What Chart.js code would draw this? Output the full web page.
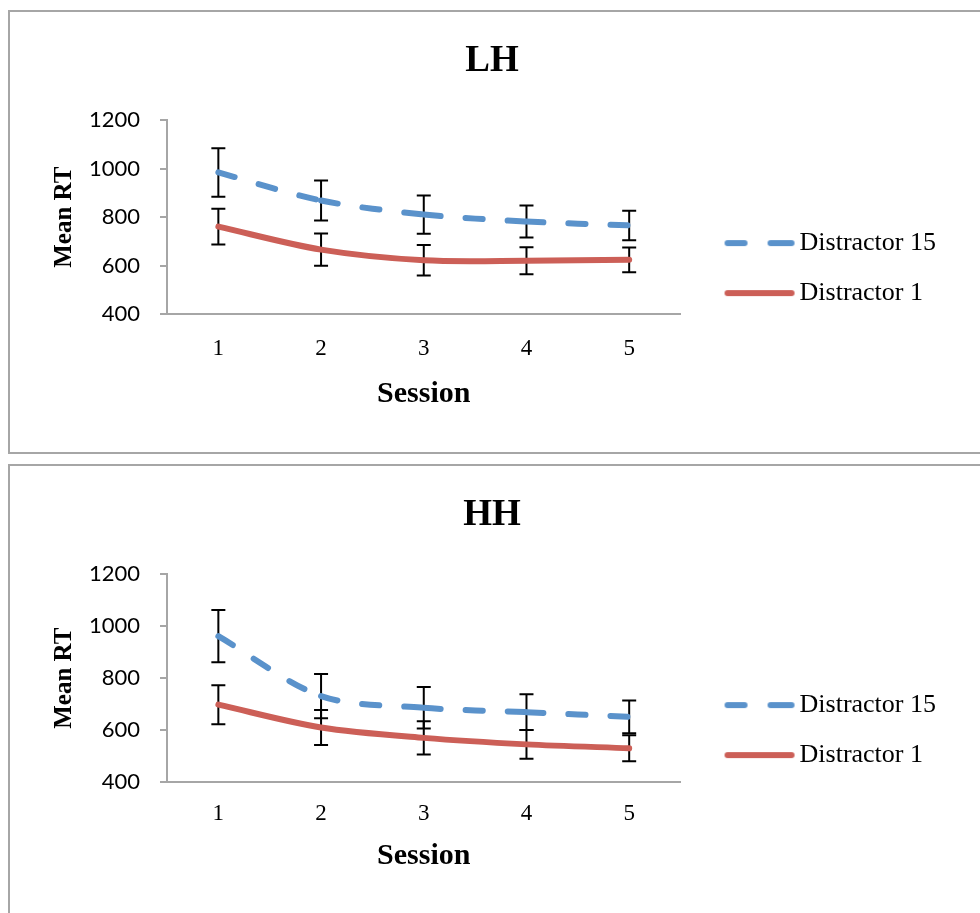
<!DOCTYPE html>
<html>
<head>
<meta charset="utf-8">
<script src="https://cdn.jsdelivr.net/npm/chart.js@4.4.1/dist/chart.umd.min.js"></script>
<style>
    body { margin: 0; background: #fff; width: 980px; height: 913px; overflow: hidden; position: relative; }
    .box { position: absolute; left: 8px; width: 1000px; border: 2px solid #a6a6a6; box-sizing: border-box; }
    #box1 { top: 10px; height: 444px; }
    #box2 { top: 464px; height: 470px; }
    canvas { position: absolute; left: 10px; }
    #lhChart { top: 12px; }
    #hhChart { top: 466px; }
</style>
</head>
<body>
<div class="box" id="box1"></div>
<div class="box" id="box2"></div>
<canvas id="lhChart" width="970" height="440"></canvas>
<canvas id="hhChart" width="970" height="447"></canvas>
<script>
// Mean RT per session, two distractor conditions, with error bars (+/-)
const sessions = ['1', '2', '3', '4', '5'];
const yTicks = [400, 600, 800, 1000, 1200];

const lhDistractor15 = [985, 869, 811, 782, 766];
const lhDistractor15Err = [100, 83, 79, 66, 61];
const lhDistractor1 = [761, 666, 622, 620, 624];
const lhDistractor1Err = [74, 67, 63, 56, 51];

const hhDistractor15 = [962, 731, 686, 669, 651];
const hhDistractor15Err = [101, 85, 80, 69, 63];
const hhDistractor1 = [698, 610, 570, 545, 530];
const hhDistractor1Err = [75, 67, 64, 55, 50];

const BLUE = '#5a92cb';
const RED = '#cc5f57';
const AXIS = '#a6a6a6';
const LINE_W = 6;

// error bars drawn through the y scale
const errorBarsPlugin = {
    id: 'errorBars',
    beforeDatasetsDraw(chart) {
        const ctx = chart.ctx;
        const x = chart.scales.x;
        const y = chart.scales.y;
        ctx.save();
        ctx.strokeStyle = '#000';
        ctx.lineWidth = 2;
        chart.data.datasets.forEach(ds => {
            if (!ds.errors) return;
            ds.data.forEach((v, i) => {
                const px = x.getPixelForValue(i);
                const top = y.getPixelForValue(v + ds.errors[i]);
                const bot = y.getPixelForValue(v - ds.errors[i]);
                ctx.beginPath();
                ctx.moveTo(px, top); ctx.lineTo(px, bot);
                ctx.moveTo(px - 7, top); ctx.lineTo(px + 7, top);
                ctx.moveTo(px - 7, bot); ctx.lineTo(px + 7, bot);
                ctx.stroke();
            });
        });
        ctx.restore();
    }
};

// legend swatch: a short stroke, dashed for Distractor 15
function legendMarker(color, dashed) {
    const c = document.createElement('canvas');
    c.width = 80;
    c.height = 10;
    const g = c.getContext('2d');
    g.strokeStyle = color;
    g.lineWidth = LINE_W;
    g.lineCap = 'round';
    g.beginPath();
    if (dashed) {
        g.moveTo(12, 5); g.lineTo(29, 5);
        g.moveTo(55, 5); g.lineTo(76, 5);
    } else {
        g.moveTo(12, 5); g.lineTo(76, 5);
    }
    g.stroke();
    return c;
}
const markers = [legendMarker(BLUE, true), legendMarker(RED, false)];

function makeChart(id, title, d15, d15Err, d1, d1Err, lay) {
    const ctx = document.getElementById(id);
    return new Chart(ctx, {
        type: 'line',
        data: {
            labels: sessions,
            datasets: [{
                label: 'Distractor 15',
                data: d15,
                errors: d15Err,
                borderColor: BLUE,
                backgroundColor: BLUE,
                borderWidth: LINE_W,
                borderDash: [17, 25],
                borderCapStyle: 'round',
                // restart the dash pattern at every point, like the original
                segment: { borderDashOffset: c => (c.p0DataIndex % 2 ? 0.001 : 0) },
                pointRadius: 0,
                tension: 0.3
            }, {
                label: 'Distractor 1',
                data: d1,
                errors: d1Err,
                borderColor: RED,
                backgroundColor: RED,
                borderWidth: LINE_W,
                borderCapStyle: 'round',
                pointRadius: 0,
                tension: 0.3
            }]
        },
        options: {
            responsive: false,
            animation: false,
            layout: { autoPadding: false, padding: { left: 28, top: 0, bottom: 0, right: 34 } },
            plugins: {
                title: {
                    display: true,
                    text: title,
                    color: '#000',
                    font: { family: 'Liberation Serif', size: 37, weight: 'bold' },
                    padding: { top: lay.titleTop, bottom: lay.titleBottom }
                },
                legend: {
                    position: 'right',
                    align: 'center',
                    maxWidth: 400,
                    title: { display: true, text: ' ', font: { size: 1 }, padding: { top: lay.legendShift, bottom: 0 } },
                    labels: {
                        usePointStyle: true,
                        pointStyleWidth: 62,
                        padding: 24,
                        color: '#000',
                        font: { family: 'Liberation Serif', size: 26 },
                        generateLabels: chart => Chart.defaults.plugins.legend.labels.generateLabels(chart)
                            .map(item => Object.assign(item, { pointStyle: markers[item.datasetIndex] }))
                    }
                },
                tooltip: { enabled: false }
            },
            scales: {
                x: {
                    offset: true,
                    grid: { display: false, drawTicks: false },
                    border: { display: true, color: AXIS, width: 2 },
                    ticks: { color: '#000', padding: lay.xTickPad, font: { family: 'Liberation Serif', size: 23 } },
                    title: {
                        display: true, text: 'Session', color: '#000',
                        font: { family: 'Liberation Serif', size: 30, weight: 'bold' },
                        padding: { top: 0, bottom: lay.xTitleBottom }
                    },
                    afterFit: s => { s.height = lay.xHeight; }
                },
                y: {
                    min: yTicks[0],
                    max: yTicks[yTicks.length - 1],
                    afterBuildTicks: s => { s.ticks = yTicks.map(v => ({ value: v })); },
                    grid: { display: true, drawOnChartArea: false, drawTicks: true, tickLength: 7, color: AXIS, lineWidth: 2 },
                    border: { display: true, color: AXIS, width: 2 },
                    ticks: { color: '#000', padding: 20, font: { family: 'Lato', size: 22 }, callback: v => String(v) },
                    title: {
                        display: true, text: 'Mean RT', color: '#000',
                        font: { family: 'Liberation Serif', size: 25, weight: 'bold' },
                        padding: { top: 12, bottom: 0 }
                    },
                    afterFit: s => { s.width = 129; }
                },
                // empty spacer between the plot and the legend
                gap: {
                    position: 'right',
                    display: true,
                    grid: { display: false, drawTicks: false },
                    border: { display: false },
                    ticks: { display: false },
                    afterFit: s => { s.width = 20; }
                }
            }
        },
        plugins: [errorBarsPlugin]
    });
}

makeChart('lhChart', 'LH', lhDistractor15, lhDistractor15Err, lhDistractor1, lhDistractor1Err,
    { titleTop: 27, titleBottom: 37, legendShift: 71, xTickPad: 21, xTitleBottom: 40, xHeight: 138 });
makeChart('hhChart', 'HH', hhDistractor15, hhDistractor15Err, hhDistractor1, hhDistractor1Err,
    { titleTop: 27, titleBottom: 37, legendShift: 80, xTickPad: 18, xTitleBottom: 39, xHeight: 131 });
</script>
</body>
</html>
